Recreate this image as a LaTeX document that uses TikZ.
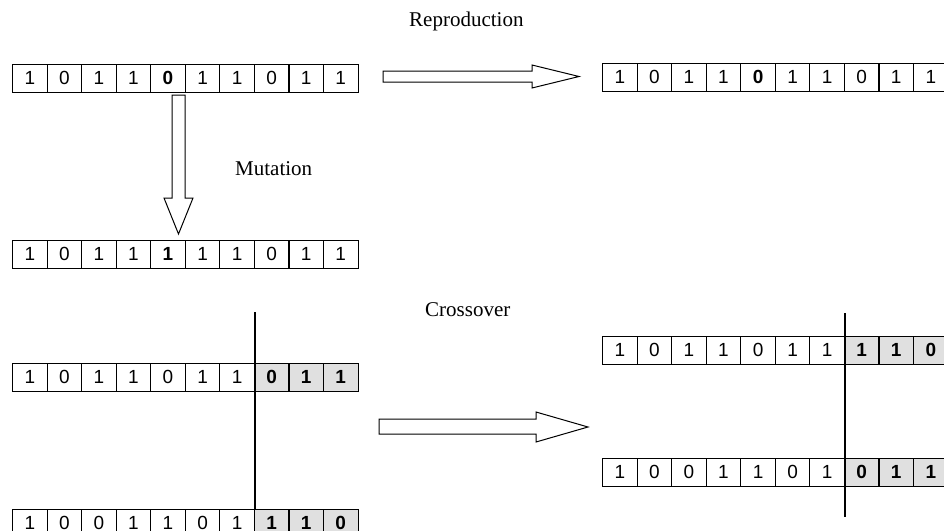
\documentclass[tikz,border=0pt]{standalone}
\usepackage{fontspec}
\setmainfont{Liberation Serif}
\newfontfamily\digitfont{Liberation Sans}
\definecolor{cellgray}{RGB}{224,224,224}
\tikzset{
  cell/.style={draw, line width=1.1pt, minimum width=34.55pt, minimum height=27.5pt,
    inner sep=0pt, anchor=north west, font={\digitfont\fontsize{19}{19}\selectfont}},
  cellp/.style={cell},
  cellb/.style={cell, font={\digitfont\bfseries\fontsize{19}{19}\selectfont}},
  cellg/.style={cell, fill=cellgray, font={\digitfont\bfseries\fontsize{19}{19}\selectfont}},
  lbl/.style={anchor=base west, inner sep=0pt, font={\fontsize{21}{25}\selectfont}},
  blockarrow/.style={draw, line width=1pt, fill=white, line join=miter},
  cutline/.style={draw, line width=1.2pt}
}
\newcommand{\genrow}[4]{%
  \foreach \d/\s [count=\i] in {#4}{%
    \node[cell\s] (#1-\i) at ({#2+(\i-1)*34.55},#3) {\d};
  }%
}
\begin{document}
\begin{tikzpicture}[x=1pt,y=-1pt]
\useasboundingbox (0,0) rectangle (944,530);
\clip (0,0) rectangle (944,530);
\fill[white] (0,0) rectangle (944,530);

% labels
\node[lbl] (trep) at (409,27) {Reproduction};
\node[lbl] (tmut) at (235,175) {Mutation};
\node[lbl] (tcro) at (425,316) {Crossover};

% rows
\genrow{ra}{12}{64}{1/p,0/p,1/p,1/p,0/b,1/p,1/p,0/p,1/p,1/p}
\genrow{rb}{602}{63}{1/p,0/p,1/p,1/p,0/b,1/p,1/p,0/p,1/p,1/p}
\genrow{rc}{12}{240}{1/p,0/p,1/p,1/p,1/b,1/p,1/p,0/p,1/p,1/p}
\genrow{rd}{12}{363}{1/p,0/p,1/p,1/p,0/p,1/p,1/p,0/g,1/g,1/g}
\genrow{re}{12}{509}{1/p,0/p,0/p,1/p,1/p,0/p,1/p,1/g,1/g,0/g}
\genrow{rf}{602}{336}{1/p,0/p,1/p,1/p,0/p,1/p,1/p,1/g,1/g,0/g}
\genrow{rg}{602}{458}{1/p,0/p,0/p,1/p,1/p,0/p,1/p,0/g,1/g,1/g}

% crossover cut lines
\coordinate (cutLtop) at (rd-7.north east |- 0,312);
\draw[cutline] (cutLtop) -- (re-7.north east);
\coordinate (cutRtop) at (rf-7.north east |- 0,313);
\coordinate (cutRbot) at (rg-7.north east |- 0,517);
\draw[cutline] (cutRtop) -- (cutRbot);

% block arrows
\draw[blockarrow] (383,71) -- (532,71) -- (532,65) -- (579,76.5) -- (532,88) -- (532,82) -- (383,82) -- cycle;
\draw[blockarrow] (379,419) -- (536,419) -- (536,412) -- (588,427) -- (536,442) -- (536,434) -- (379,434) -- cycle;
\draw[blockarrow] (172,95) -- (185,95) -- (185,198) -- (193,198) -- (178.5,234) -- (164,198) -- (172,198) -- cycle;
\end{tikzpicture}
\end{document}
